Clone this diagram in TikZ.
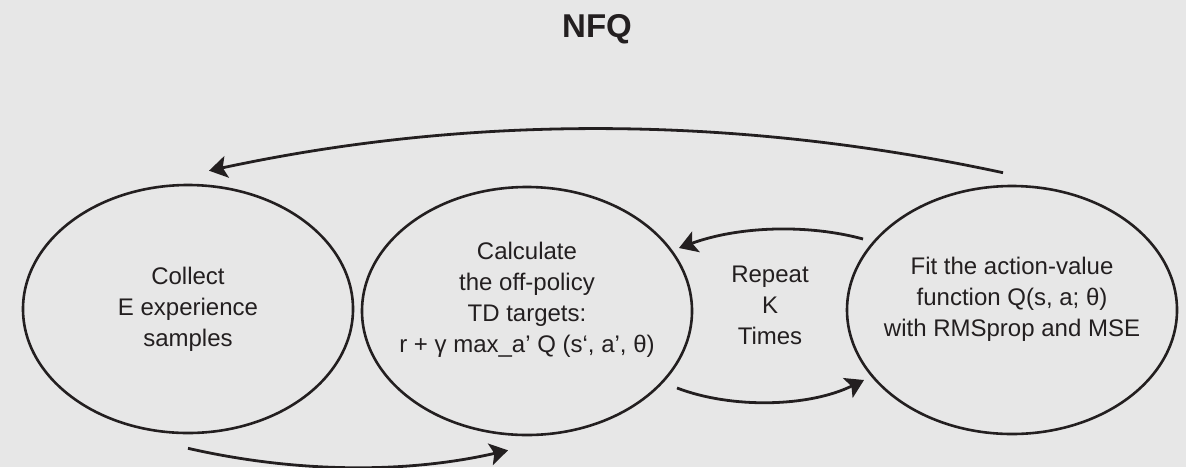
\documentclass[tikz,border=0pt]{standalone}
\usepackage{fontspec}
\setmainfont{Liberation Sans}
\usepackage{tikz}
\usetikzlibrary{arrows.meta,shapes.geometric}
\definecolor{bggray}{HTML}{E7E7E7}
\definecolor{inkblack}{HTML}{231F20}

\begin{document}
\begin{tikzpicture}[x=0.5pt,y=-0.5pt,
  stage/.style={draw=inkblack, line width=1.3pt, ellipse, minimum width=165pt, minimum height=124pt, inner sep=0pt},
  stagetext/.style={align=center, text=inkblack, font=\fontsize{12}{15.5}\selectfont},
  flow/.style={draw=inkblack, line width=1.4pt, -{Stealth[length=9pt,width=11pt,inset=2pt]}}]
  % Background
  \useasboundingbox (0,0) rectangle (1186,467);
  \fill[bggray] (0,0) rectangle (1186,467);
  % Title
  \node[font=\bfseries\fontsize{16.5}{20}\selectfont, text=inkblack, anchor=base] (title) at (597,37) {NFQ};
  % Stages
  \node[stage] (collect) at (188,309) {};
  \node[stage] (targets) at (527,311) {};
  \node[stage] (fit) at (1012,310) {};
  \node[stagetext] (collecttext) at (collect.center) {Collect\\E experience\\samples};
  \node[stagetext] (targetstext) at ([shift={(0,-11)}]targets.center) {Calculate\\the off-policy\\TD targets:\\r + γ max\_a’ Q (s‘, a’, θ)};
  \node[stagetext] (fittext) at ([shift={(0,-11)}]fit.center) {Fit the action-value\\function Q(s, a; θ)\\with RMSprop and MSE};
  % Inner loop label
  \node[stagetext] (repeat) at (770,305) {Repeat\\K\\Times};
  % Outer loop
  \draw[flow] ([shift={(-9,-12)}]fit.north) .. controls +(-265,-57) and +(265,-57) .. ([shift={(21,-13)}]collect.north);
  % Samples to targets
  \draw[flow] ([shift={(0,14)}]collect.south) .. controls +(105,24) and +(-105,24) .. ([shift={(-19,14)}]targets.south);
  % Targets to fitting
  \draw[flow] ([shift={(150,77)}]targets.center) .. controls +(55,21) and +(-55,27) .. ([shift={(-148,70)}]fit.center);
  % Back for K times
  \draw[flow] ([shift={(-149,-71)}]fit.center) .. controls +(-55,-15) and +(60,-22) .. ([shift={(152,-63)}]targets.center);
\end{tikzpicture}
\end{document}
